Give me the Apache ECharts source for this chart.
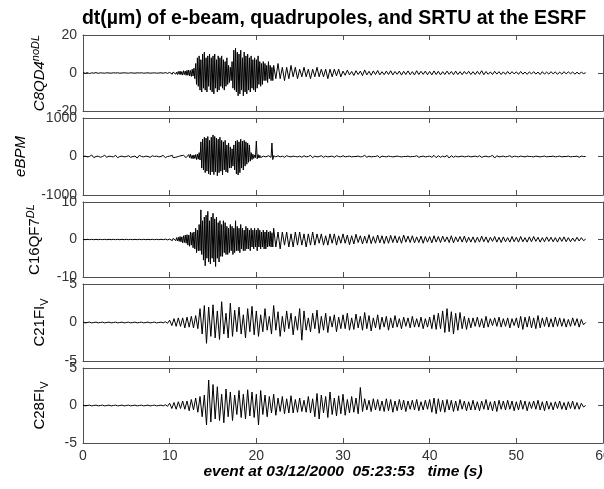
<!DOCTYPE html>
<html><head><meta charset="utf-8">
<script src="https://cdn.jsdelivr.net/npm/echarts@6/dist/echarts.min.js"></script>
<style>html,body{margin:0;padding:0;background:#fff}#c{width:604px;height:489px}</style>
</head><body><div id="c"></div>
<script>
// Sampling: uniform traces use dt = 0.25 s from 0 s.
// "Dense" traces: 0.25 s until 10 s, 0.1 s from 10 s to 22 s, then 0.25 s again.
const dt = 0.25, dtDense = 0.1, denseFrom = 10, denseTo = 22;
const xTicks = [0, 10, 20, 30, 40, 50, 60];
const panelNames = ['C8QD4', 'eBPM', 'C16QF7', 'C21FI', 'C28FI'];
const yRanges = [[-20, 20], [-1000, 1000], [-10, 10], [-5, 5], [-5, 5]];
const denseTrace = [true, true, true, false, false];

const c8qd4 = [
 // 0-9.75 s
 0.3,-0.2,0.2,-0.3,0.1,-0.1,0.2,-0.2,0.1,0,-0.1,0.1,0,-0.1,0.1,0,0.1,-0.1,0,0.1,
 0,-0.1,0.1,0,-0.1,0.1,0,0.1,-0.1,0,0.1,-0.1,0,0.1,-0.1,0,0.1,-0.1,0.2,-0.2,
 // 10-21.9 s
 0.3,-0.5,0.4,-0.6,0.5,-0.4,0.7,-0.6,0.5,-0.8,
 0.8,-0.7,1,-0.9,0.7,-1.1,1.2,-0.8,1,-1.2,
 1.4,-1.2,1.6,-1.5,1.3,-1.8,2,-1.6,2.5,-3,
 5,-6,8,-7,9,-9,7,-10,10,-8,
 11,-9,8,-10,9,-7,10,-9,8,-10,
 9,-11,10,-8,7,-10,9,-9,8,-7,
 9,-8,7,-9,6,-7,8,-6,4,-5,
 3,-4,6,-8,12,-9,13,-10,11,-12,
 10,-11,12,-9,8,-12,11,-10,9,-11,
 10,-9,8,-10,9,-8,7,-9,8,-10,
 7,-8,9,-6,6,-7,5,-6,6,-4,
 5,-4,4,-5,6,-3,4,-4,3,-4,
 // 22-58 s
 4,-3,5,-3,3,-4,3,-3,4,-2,3,-3,
 2,-2,3,-2,2,-3,2,-2,3,-2,2,-2,2,-3,2,-2,2,-1.5,2,-2,
 1,-1.2,1.5,-1,0.8,-1.3,1.2,-0.8,1,-1.4,1.6,-1,0.9,-1.2,1.1,-0.8,1.3,-1,0.7,-0.9,
 1,-0.8,1.2,-1,0.8,-0.7,1,-1.1,0.9,-0.8,1.1,-0.9,0.7,-1,1.2,-0.8,0.9,-0.7,1,-0.9,
 0.8,-1,1.1,-0.8,0.9,-1,0.7,-0.8,1,-0.7,0.8,-0.9,1,-0.8,0.7,-0.9,0.8,-0.6,0.9,-0.8,
 0.7,-0.8,0.9,-0.7,1.2,-0.9,0.8,-0.7,0.6,-0.8,0.9,-0.6,0.7,-0.8,0.6,-0.7,0.8,-0.6,0.7,-0.5,
 0.6,-0.7,0.8,-0.6,0.5,-0.7,0.6,-0.5,0.7,-0.6,0.5,-0.8,0.7,-0.6,0.5,-0.6,0.7,-0.5,0.6,-0.7,
 0.5,-0.6,0.7,-0.5,0.6,-0.4,0.5,-0.6,0.4,-0.5,0.4,-0.3,0.1
];
const ebpm = [
 0,10,-10,0,40,-30,0,10,-20,0,30,-20,10,0,-10,30,-30,0,10,-10,
 0,20,-20,0,10,-40,30,0,-10,10,0,-20,20,0,10,-10,0,30,-30,0,
 10,-20,0,30,-30,10,0,-20,20,-10,
 0,40,-40,20,-10,0,30,-20,10,-30,
 20,-40,50,-30,60,-50,30,-60,40,-50,
 50,-80,60,-70,100,-90,380,-300,450,-350,
 500,-420,480,-380,520,-450,420,-480,500,-400,
 560,-470,520,-400,480,-500,450,-420,500,-380,
 420,-480,380,-350,420,-400,300,-420,350,-300,
 250,-300,200,-250,300,-350,400,-450,420,-480,
 380,-420,450,-300,400,-350,420,-250,380,-200,
 350,-150,300,-120,100,-80,60,-50,40,-30,
 400,-60,50,-40,30,-30,20,-20,10,-20,
 20,-10,10,-20,20,-10,30,-20,350,-80,
 20,-10,20,-10,10,-20,20,0,-10,10,0,-10,
 10,-20,20,-10,0,30,-30,10,-10,0,20,-20,10,-10,0,10,-20,20,0,-10,
 20,-10,0,10,-10,0,0,10,-10,0,30,-20,10,-10,0,0,20,-30,10,0,
 -10,10,0,-10,0,10,0,-10,0,0,10,-10,0,0,20,-20,0,10,-10,0,
 10,-20,30,-30,20,-20,10,-10,30,-40,20,-20,10,-10,0,10,-10,0,10,-10,
 0,10,-10,20,-20,0,10,-10,0,30,-40,20,-10,0,10,-10,0,20,-20,10,
 0,-10,10,0,-10,10,0,0,-10,10,0,-10,0,10,-10,0,0,10,-10,0,
 10,-10,0,0,10,-10,0,0,10,-20,10,0,0
];
const c16qf7 = [
 0.05,-0.05,0.05,-0.05,0.05,-0.05,0.05,-0.05,0.05,-0.05,0.05,-0.05,0.05,-0.05,0.05,-0.05,0.05,-0.05,0.05,-0.05,
 0.05,-0.05,0.05,-0.05,0.05,-0.05,0.05,-0.05,0.05,-0.05,0.05,-0.05,0.05,-0.05,0.05,-0.05,0.05,-0.05,0.1,-0.1,
 0.1,-0.2,0.2,-0.3,0.3,-0.2,0.4,-0.3,0.5,-0.4,
 0.6,-0.5,0.8,-0.6,0.7,-0.9,1,-0.8,1.2,-1,
 1.3,-1.5,1.2,-1.8,2,-1.5,1.8,-2.2,2,-2.5,
 3,-3.5,2.5,-3,4,-3,7.9,-4,5,-5.5,
 6,-7,6.5,-5,7.5,-6,5,-6.5,6,-5,
 7,-6,5.5,-7.2,6,-5,4.5,-6,5,-4.5,
 4,-4.5,5,-3.5,4.5,-4,3.5,-4,3,-3.5,
 4,-3,3.5,-4,3,-3.5,5,-3,3.5,-3,
 3,-3.5,4,-2.5,3,-3,2.5,-3,3.5,-2.5,
 3,-2.5,2.5,-3,3,-2,2.5,-2.5,3,-2,
 2.5,-3,3,-2,2.5,-2.5,2,-2,2.5,-2.5,
 2,-2.5,2.5,-2,2,-1.8,2.2,-2,1.8,-2,
 3,-2,2,-2.5,2,-1.5,2,-2,1.5,-2,2,-1.5,
 2,-1.5,1.5,-2,1.5,-1.5,2,-1.5,1.5,-1,1.5,-1.5,1,-1.5,1.5,-1,1.5,-1.5,1,-1,
 1.5,-1,1.2,-1.4,1,-1.2,1.4,-0.8,1,-1.2,0.9,-1,1.3,-1.1,0.8,-1,1.2,-0.9,1,-1.1,
 0.9,-1,1.1,-0.8,1,-0.9,0.8,-1,1.2,-0.7,0.9,-0.8,1,-0.9,0.7,-0.8,0.9,-1,0.8,-0.7,
 0.8,-0.9,1,-0.7,0.8,-0.8,0.9,-0.6,0.7,-0.8,1,-0.9,0.7,-0.6,0.8,-0.7,0.9,-0.8,0.6,-0.7,
 0.7,-0.8,0.6,-0.7,0.9,-0.6,0.7,-0.8,0.6,-0.5,0.8,-0.7,0.6,-0.8,0.7,-0.6,0.5,-0.7,0.8,-0.6,
 0.6,-0.7,0.8,-0.6,0.5,-0.7,0.7,-0.6,0.8,-0.5,0.6,-0.7,0.5,-0.6,0.7,-0.5,0.6,-0.6,0.5,-0.7,
 0.6,-0.5,0.7,-0.6,0.5,-0.6,0.4,-0.5,0.6,-0.4,0.5,-0.3,0.1
];
const c21fi = [
 0.05,-0.05,0,0.05,-0.05,0,0.05,-0.05,0,0.05,-0.05,0,0.05,-0.05,0,0.05,-0.05,0,0.05,-0.05,
 0,0.05,-0.05,0,0.05,-0.05,0,0.05,-0.05,0,0.05,-0.05,0,0.05,-0.05,0,0.05,-0.05,0.1,-0.1,
 0.3,-0.4,0.5,-0.5,0.6,-0.5,0.6,-0.7,0.7,-0.6,0.8,-0.7,0.9,-0.8,1.8,-1.5,2.2,-2.7,2,-1.8,
 2.3,-2,1.5,-2.2,2.7,-1.5,1.2,-2,2.5,-1.8,1.6,-1.2,2,-1.5,1,-2,1.8,-1.2,2.1,-1.6,
 1.5,-1.8,1,-1.2,1.8,-1,0.8,-1.5,2.2,-1,1.4,-1.8,0.8,-1.2,1.5,-0.8,1.2,-1.6,0.8,-1,
 1.8,-2.3,1.5,-1,0.6,-1.2,1.2,-0.8,1.6,-1.4,0.8,-1,1.2,-1.3,0.8,-0.6,1,-1.2,0.7,-0.8,
 1,-0.8,1.2,-1,0.6,-0.9,1.1,-0.7,0.8,-1,1.3,-0.8,0.9,-1.1,0.6,-0.7,1,-0.9,0.7,-0.6,
 0.8,-1,0.6,-0.7,0.9,-0.6,0.5,-0.8,0.7,-0.5,0.6,-0.7,0.8,-0.6,0.5,-0.6,0.7,-0.8,0.5,-0.6,
 0.7,-0.8,1,-0.9,1.2,-0.8,1.5,-1.3,1.8,-1.2,1.4,-1.5,1.2,-1,1.3,-0.8,0.8,-0.9,0.6,-0.7,
 0.6,-0.5,0.7,-0.6,0.5,-0.7,0.8,-0.6,0.5,-0.4,0.6,-0.5,0.7,-0.6,0.5,-0.5,0.6,-0.7,0.5,-0.4,
 0.6,-0.7,0.8,-0.9,0.7,-0.6,0.8,-0.7,0.6,-0.8,0.9,-0.7,0.6,-0.5,0.7,-0.6,0.5,-0.6,0.7,-0.5,
 0.6,-0.5,0.5,-0.6,0.4,-0.5,0.6,-0.4,0.5,-0.6,0.4,-0.3,0
];
const c28fi = [
 0.05,-0.05,0,0.05,-0.05,0,0.05,-0.05,0,0.05,-0.05,0,0.05,-0.05,0,0.05,-0.05,0,0.05,-0.05,
 0,0.05,-0.05,0,0.05,-0.05,0,0.05,-0.05,0,0.05,-0.05,0,0.05,-0.05,0,0.05,-0.05,0.1,-0.1,
 0.3,-0.4,0.4,-0.5,0.5,-0.4,0.6,-0.5,0.6,-0.7,0.8,-0.6,1,-0.9,1.2,-1.5,1.4,-2.6,3.4,-2.2,
 2.8,-1.8,2.5,-2,1.5,-2.3,2.2,-1.5,1.8,-2,1.4,-1.2,2,-1.6,1.5,-1.8,2.1,-1.4,1.8,-1.6,
 1.5,-2.6,2,-1.2,1.4,-1.5,1.2,-1,1.5,-1.3,1,-0.8,1.2,-1.1,0.9,-1,1.3,-1,0.8,-0.9,
 1,-0.8,0.7,-0.9,1.2,-1,0.9,-1.5,1.6,-1.8,1.4,-1,1.2,-1.6,1.8,-1.2,1,-1.4,1.3,-1.1,
 1.5,-1.3,0.8,-1,1.2,-0.9,1,-1.1,2.4,-0.8,0.9,-0.6,0.7,-0.8,0.9,-0.6,0.8,-0.7,0.6,-0.8,
 0.9,-0.7,0.8,-0.9,0.6,-0.7,0.8,-0.6,0.7,-0.8,0.6,-0.5,0.7,-0.6,0.8,-0.7,0.5,-0.6,0.7,-0.5,
 0.8,-0.9,1,-1.1,0.9,-0.8,0.7,-0.9,0.8,-0.6,0.7,-0.8,0.6,-0.7,0.8,-0.5,0.6,-0.7,0.5,-0.6,
 0.7,-0.6,0.5,-0.7,0.6,-0.5,0.8,-0.6,0.5,-0.7,0.6,-0.8,0.7,-0.5,0.6,-0.6,0.7,-0.5,0.6,-0.7,
 0.5,-0.6,0.7,-0.5,0.6,-0.7,0.5,-0.4,0.6,-0.5,0.7,-0.6,0.5,-0.7,0.6,-0.5,0.4,-0.6,0.5,-0.4,
 0.6,-0.5,0.4,-0.6,0.5,-0.4,0.6,-0.5,0.4,-0.5,0.3,-0.2,0
];
const seriesValues = [c8qd4, ebpm, c16qf7, c21fi, c28fi];

function sampleTimes(n, dense) {
  const out = [];
  const nPre = Math.round(denseFrom / dt);
  const nDense = Math.round((denseTo - denseFrom) / dtDense);
  for (let k = 0; k < n; k++) {
    let t;
    if (!dense || k < nPre) t = k * dt;
    else if (k < nPre + nDense) t = denseFrom + (k - nPre) * dtDense;
    else t = denseTo + (k - nPre - nDense) * dt;
    out.push(Math.round(t * 1000) / 1000);
  }
  return out;
}

const FONT = '"Liberation Sans", Arial, sans-serif';
const grids = [
  {left: 83, width: 520, top: 35, height: 76, outerBoundsMode: 'none'},
  {left: 83, width: 520, top: 118, height: 77, outerBoundsMode: 'none'},
  {left: 83, width: 520, top: 202, height: 75, outerBoundsMode: 'none'},
  {left: 83, width: 520, top: 284, height: 77, outerBoundsMode: 'none'},
  {left: 83, width: 520, top: 368, height: 75, outerBoundsMode: 'none'}
];
const nameRich = {
  m: {fontSize: 15, fontFamily: FONT, color: '#000'},
  mi: {fontSize: 15, fontFamily: FONT, color: '#000', fontStyle: 'italic'},
  sup: {fontSize: 11, fontFamily: FONT, color: '#000', fontStyle: 'italic', padding: [0, 0, 9, 0]},
  sub: {fontSize: 11, fontFamily: FONT, color: '#000', padding: [9, 0, 0, 0]}
};
const yNames = [
  '{mi|C8QD4}{sup|noDL}',
  '{mi|eBPM}',
  '{m|C16QF7}{sup|DL}',
  '{m|C21FI}{sub|V}',
  '{m|C28FI}{sub|V}'
];
const nameGaps = [33, 55, 38, 33, 33];
const axisCol = '#505050';
const tickFont = {fontSize: 14, color: '#333', fontFamily: FONT};
const xAxes = [], yAxes = [], series = [];
grids.forEach((g, i) => {
  const last = i === grids.length - 1;
  xAxes.push({
    type: 'value', gridIndex: i, min: 0, max: 60, interval: 10, position: 'bottom',
    axisLine: {show: true, onZero: false, lineStyle: {color: axisCol, width: 1}},
    axisTick: {show: true, inside: true, length: 5, lineStyle: {color: axisCol}},
    axisLabel: Object.assign({show: last, margin: 6, showMinLabel: true, showMaxLabel: true,
      formatter: v => xTicks.includes(v) ? String(v) : ''}, tickFont),
    splitLine: {show: false},
    name: last ? '{n|event at 03/12/2000  05:23:53   time (s)}' : '',
    nameLocation: 'middle', nameGap: 21,
    nameTextStyle: {rich: {n: {fontSize: 15.5, fontWeight: 'bold', fontStyle: 'italic', fontFamily: FONT, color: '#000'}}}
  });
  xAxes.push({
    type: 'value', gridIndex: i, min: 0, max: 60, interval: 10, position: 'top',
    axisLine: {show: true, onZero: false, lineStyle: {color: axisCol, width: 1}},
    axisTick: {show: true, inside: true, length: 5, lineStyle: {color: axisCol}},
    axisLabel: {show: false}, splitLine: {show: false}
  });
  const [lo, hi] = yRanges[i];
  yAxes.push({
    type: 'value', gridIndex: i, min: lo, max: hi, interval: hi, position: 'left',
    axisLine: {show: true, onZero: false, lineStyle: {color: axisCol, width: 1}},
    axisTick: {show: true, inside: true, length: 5, lineStyle: {color: axisCol}},
    axisLabel: Object.assign({show: true, margin: 6, showMinLabel: true, showMaxLabel: true,
      formatter: v => String(v)}, tickFont),
    splitLine: {show: false},
    name: yNames[i], nameLocation: 'middle', nameRotate: 90, nameGap: nameGaps[i],
    nameMoveOverlap: false,
    nameTextStyle: {rich: nameRich}
  });
  yAxes.push({
    type: 'value', gridIndex: i, min: lo, max: hi, interval: hi, position: 'right',
    axisLine: {show: true, onZero: false, lineStyle: {color: axisCol, width: 1}},
    axisTick: {show: true, inside: true, length: 5, lineStyle: {color: axisCol}},
    axisLabel: {show: false}, splitLine: {show: false}
  });
  const vals = seriesValues[i];
  const times = sampleTimes(vals.length, denseTrace[i]);
  series.push({
    type: 'line', name: panelNames[i], xAxisIndex: 2 * i, yAxisIndex: 2 * i,
    data: vals.map((v, k) => [times[k], v]),
    showSymbol: false, symbol: 'none', animation: false,
    lineStyle: {color: '#000', width: 1}, clip: true
  });
});

const chart = echarts.init(document.getElementById('c'), null, {renderer: 'canvas'});
chart.setOption({
  backgroundColor: '#fff',
  animation: false,
  title: {
    text: 'dt(µm) of e-beam, quadrupoles, and SRTU at the ESRF',
    left: 329, top: 4, textAlign: 'center',
    textStyle: {fontSize: 19.5, fontWeight: 'bold', fontFamily: FONT, color: '#000'}
  },
  grid: grids,
  xAxis: xAxes,
  yAxis: yAxes,
  series: series
});
</script>
</body></html>
